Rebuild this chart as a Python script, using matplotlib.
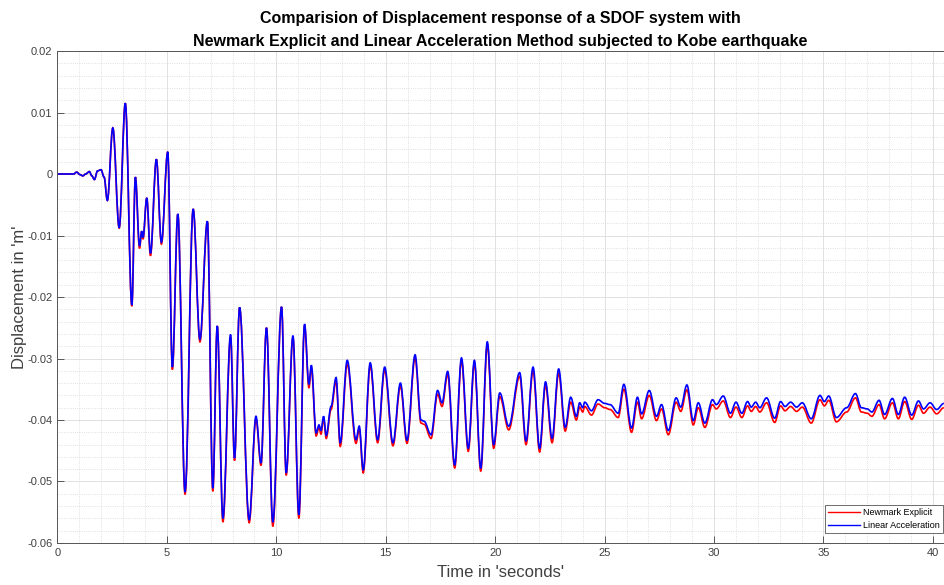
import numpy as np
import matplotlib.pyplot as plt
from matplotlib.lines import Line2D
from matplotlib.patches import PathPatch
from matplotlib.path import Path
from matplotlib.ticker import MultipleLocator

plt.rcParams["font.family"] = ["Liberation Sans", "DejaVu Sans"]
plt.rcParams["axes.unicode_minus"] = False

# time instants (s) of the response extrema
time_s = [
    0.0, 0.5, 0.73, 0.88, 1.03, 1.16, 1.29, 1.46, 1.57, 1.69, 1.83, 1.99, 2.13,
    2.28, 2.53, 2.82, 3.10, 3.40, 3.56, 3.75, 3.85, 3.91, 4.08, 4.25, 4.52,
    4.75, 5.04, 5.25, 5.50, 5.83, 6.20, 6.51, 6.85, 7.10, 7.30, 7.56, 7.91,
    8.09, 8.32, 8.76, 9.07, 9.30, 9.55, 9.84, 10.24, 10.45, 10.76, 11.03,
    11.29, 11.49, 11.60, 11.82, 11.95, 12.04, 12.16, 12.28, 12.50, 12.73,
    12.92, 13.24, 13.64, 13.79, 13.97, 14.29, 14.63, 14.95, 15.33, 15.67,
    15.97, 16.34, 16.61, 16.75, 17.07, 17.37, 17.57, 17.83, 18.15, 18.46,
    18.77, 19.05, 19.34, 19.64, 19.93, 20.21, 20.62, 21.12, 21.41, 21.73,
    22.03, 22.30, 22.60, 22.90, 23.20, 23.45, 23.71, 23.86, 24.00, 24.09,
    24.40, 24.70, 25.00, 25.25, 25.62, 25.88, 26.23, 26.50, 26.69, 27.04,
    27.37, 27.60, 27.91, 28.27, 28.48, 28.76, 29.05, 29.28, 29.58, 29.93,
    30.10, 30.42, 30.75, 31.00, 31.27, 31.53, 31.70, 31.90, 32.09, 32.40,
    32.77, 33.04, 33.24, 33.50, 33.77, 34.03, 34.44, 34.84, 35.04, 35.24,
    35.59, 36.06, 36.46, 36.73, 37.00, 37.21, 37.54, 37.79, 38.15, 38.42,
    38.71, 39.03, 39.34, 39.57, 39.87, 40.17, 40.50,
]

# Linear Acceleration displacement (m)
disp_linear = [
    0.0, 0.0, 0.0, 0.0003, -0.0001, -0.0003, 0.0, 0.0004, -0.0003, -0.0009,
    0.0005, 0.0007, -0.0005, -0.0043, 0.0075, -0.0087, 0.0115, -0.0213,
    -0.0005, -0.0117, -0.0093, -0.0103, -0.0039, -0.0129, 0.0024, -0.0111,
    0.0036, -0.0314, -0.0065, -0.0517, -0.0057, -0.0269, -0.0077, -0.0511,
    -0.0247, -0.0560, -0.0261, -0.0462, -0.0217, -0.0562, -0.0394, -0.0470,
    -0.0250, -0.0566, -0.0216, -0.0486, -0.0263, -0.0554, -0.0244, -0.0342,
    -0.0311, -0.0421, -0.0408, -0.0417, -0.0394, -0.0425, -0.0378, -0.0331,
    -0.0437, -0.0303, -0.0432, -0.0410, -0.0481, -0.0307, -0.0432, -0.0314,
    -0.0437, -0.0340, -0.0433, -0.0294, -0.0400, -0.0402, -0.0424, -0.0352,
    -0.0372, -0.0321, -0.0473, -0.0299, -0.0446, -0.0303, -0.0478, -0.0273,
    -0.0440, -0.0356, -0.0410, -0.0323, -0.0434, -0.0314, -0.0446, -0.0338,
    -0.0430, -0.0317, -0.0412, -0.0363, -0.0394, -0.0372, -0.0380, -0.0371,
    -0.0385, -0.0367, -0.0373, -0.0375, -0.0389, -0.0342, -0.0413, -0.0363,
    -0.0390, -0.0352, -0.0394, -0.0375, -0.0417, -0.0364, -0.0379, -0.0343,
    -0.0401, -0.0372, -0.0405, -0.0367, -0.0375, -0.0361, -0.0389, -0.0371,
    -0.0389, -0.0370, -0.0379, -0.0371, -0.0380, -0.0364, -0.0397, -0.0370,
    -0.0378, -0.0371, -0.0379, -0.0372, -0.0398, -0.0360, -0.0370, -0.0361,
    -0.0396, -0.0380, -0.0357, -0.0380, -0.0382, -0.0387, -0.0368, -0.0391,
    -0.0365, -0.0391, -0.0363, -0.0392, -0.0369, -0.0382, -0.0372, -0.0383,
    -0.0373,
]

# Newmark Explicit displacement (m)
disp_newmark = [
    0.0, 0.0, 0.0, 0.0003, -0.0001, -0.0003, 0.0, 0.0004, -0.0003, -0.0009,
    0.0005, 0.0007, -0.0005, -0.0043, 0.0075, -0.0088, 0.0115, -0.0215,
    -0.0005, -0.0121, -0.0093, -0.0106, -0.0039, -0.0133, 0.0024, -0.0114,
    0.0036, -0.0318, -0.0065, -0.0521, -0.0057, -0.0273, -0.0077, -0.0516,
    -0.0247, -0.0566, -0.0265, -0.0466, -0.0217, -0.0567, -0.0398, -0.0474,
    -0.0250, -0.0573, -0.0216, -0.0490, -0.0266, -0.0560, -0.0247, -0.0348,
    -0.0315, -0.0426, -0.0412, -0.0423, -0.0398, -0.0430, -0.0383, -0.0337,
    -0.0443, -0.0309, -0.0438, -0.0415, -0.0486, -0.0312, -0.0437, -0.0319,
    -0.0442, -0.0345, -0.0438, -0.0299, -0.0405, -0.0407, -0.0430, -0.0358,
    -0.0378, -0.0326, -0.0478, -0.0304, -0.0451, -0.0308, -0.0483, -0.0278,
    -0.0446, -0.0362, -0.0416, -0.0329, -0.0440, -0.0320, -0.0452, -0.0344,
    -0.0437, -0.0324, -0.0418, -0.0371, -0.0400, -0.0379, -0.0387, -0.0378,
    -0.0392, -0.0374, -0.0380, -0.0383, -0.0396, -0.0350, -0.0420, -0.0371,
    -0.0398, -0.0360, -0.0401, -0.0382, -0.0424, -0.0371, -0.0386, -0.0351,
    -0.0408, -0.0380, -0.0412, -0.0375, -0.0382, -0.0369, -0.0396, -0.0379,
    -0.0396, -0.0377, -0.0386, -0.0378, -0.0387, -0.0372, -0.0404, -0.0377,
    -0.0385, -0.0378, -0.0386, -0.0379, -0.0405, -0.0367, -0.0377, -0.0368,
    -0.0403, -0.0387, -0.0364, -0.0387, -0.0389, -0.0394, -0.0375, -0.0398,
    -0.0372, -0.0398, -0.0370, -0.0399, -0.0376, -0.0389, -0.0379, -0.0390,
    -0.0380,
]

TITLE = ("Comparision of Displacement response of a SDOF system with\n"
         "Newmark Explicit and Linear Acceleration Method subjected to Kobe earthquake")


def smooth_path(xs, ys, k=0.36):
    """Cubic Bezier path through the extrema, flat tangent at each point."""
    verts = [(xs[0], ys[0])]
    codes = [Path.MOVETO]
    for x0, y0, x1, y1 in zip(xs[:-1], ys[:-1], xs[1:], ys[1:]):
        dx = (x1 - x0) * k
        verts += [(x0 + dx, y0), (x1 - dx, y1), (x1, y1)]
        codes += [Path.CURVE4] * 3
    return Path(verts, codes)


fig = plt.figure(figsize=(9.45, 5.85), dpi=100)
ax = fig.add_axes([0.0608, 0.0718, 0.938, 0.841])

RED, BLUE = "#ff0000", "#0000ff"
ax.add_patch(PathPatch(smooth_path(time_s, disp_newmark), fill=False,
                       edgecolor=RED, lw=1.2))
ax.add_patch(PathPatch(smooth_path(time_s, disp_linear), fill=False,
                       edgecolor=BLUE, lw=1.2))

ax.set_xlim(0, 40.5)
ax.set_ylim(-0.06, 0.02)
ax.xaxis.set_major_locator(MultipleLocator(5))
ax.xaxis.set_minor_locator(MultipleLocator(1))
ax.set_yticks(np.arange(-0.06, 0.021, 0.01))
ax.set_yticklabels(["-0.06", "-0.05", "-0.04", "-0.03", "-0.02", "-0.01", "0", "0.01", "0.02"])
ax.yaxis.set_minor_locator(MultipleLocator(0.002))

# MATLAB-like grid: solid major, dotted minor
ax.grid(which="major", color="#dcdcdc", lw=0.6, ls="-")
ax.grid(which="minor", color="#d6d6d6", lw=0.6, ls=":")
ax.set_axisbelow(True)

ax.tick_params(which="major", direction="in", length=5, width=0.6,
               labelsize=8, colors="#404040", top=False, right=False)
ax.tick_params(which="minor", length=0)
for sp in ax.spines.values():
    sp.set_color("#555555")
    sp.set_linewidth(0.7)

ax.set_xlabel("Time in 'seconds'", fontsize=12, color="#404040", labelpad=5.5)
ax.set_ylabel("Displacement in 'm'", fontsize=12, color="#404040", labelpad=0.5)
ax.set_title(TITLE, fontsize=11.5, fontweight="bold", linespacing=1.72, pad=3.5)

handles = [Line2D([], [], color=RED, lw=1.0), Line2D([], [], color=BLUE, lw=1.0)]
leg = ax.legend(handles, ["Newmark Explicit", "Linear Acceleration"],
                loc="lower right", bbox_to_anchor=(0.9985, 0.02),
                fontsize=6.5, frameon=True, fancybox=False, framealpha=1,
                handlelength=3.5, handletextpad=0.3, borderpad=0.35,
                borderaxespad=0.0, labelspacing=0.45)
leg.get_frame().set_edgecolor("#555555")
leg.get_frame().set_linewidth(0.6)

fig.savefig("out.png", dpi=100)
